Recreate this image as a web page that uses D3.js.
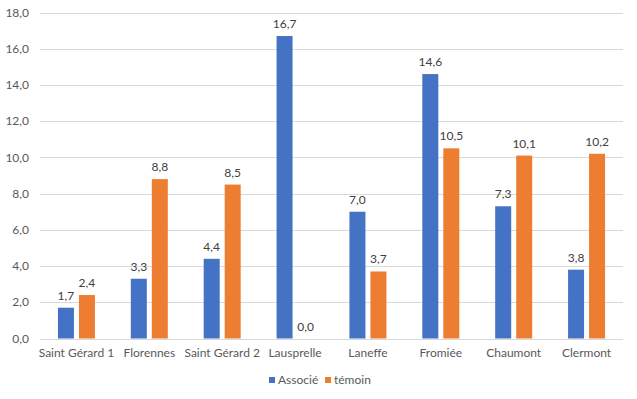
<!DOCTYPE html>
<html><head><meta charset="utf-8">
<script src="https://cdn.jsdelivr.net/npm/d3@7"></script>
<style>
html,body{margin:0;padding:0;background:#fff;}
svg{display:block;font-family:Lato,"Liberation Sans",sans-serif;}
</style></head>
<body><svg id="c" width="637" height="399"></svg>
<script>
const categories = ["Saint Gérard 1","Florennes","Saint Gérard 2","Lausprelle","Laneffe","Fromiée","Chaumont","Clermont"];
const seriesNames = ["Associé","témoin"];
const associe = [1.7,3.3,4.4,16.7,7.0,14.6,7.3,3.8];
const temoin = [2.4,8.8,8.5,0.0,3.7,10.5,10.1,10.2];
const yTicks = [0,2,4,6,8,10,12,14,16,18];
const colors = ["#4472C4","#ED7D31"];

(function(){
const svg = d3.select("#c");
const mLeft = 40, mRight = 623, mTop = 12.5, mBottom = 338.5;
const fmt = v => v.toFixed(1).replace(".", ",");

const x0 = d3.scaleBand().domain(categories).range([mLeft, mRight]).paddingInner(0).paddingOuter(0);
const x1 = d3.scaleBand().domain(seriesNames).range([-18.5, 18.5]).paddingInner(5/21).paddingOuter(0);
const y = d3.scaleLinear().domain([0, 18]).range([mBottom, mTop]);

svg.append("g").selectAll("line").data(yTicks).join("line")
  .attr("x1", mLeft).attr("x2", mRight)
  .attr("y1", d => Math.round(y(d)) + 0.5).attr("y2", d => Math.round(y(d)) + 0.5)
  .attr("stroke", "#d9d9d9").attr("stroke-width", 1);

svg.append("g").selectAll("text").data(yTicks).join("text")
  .attr("x", 29).attr("y", d => y(d)).attr("dy", "0.35em")
  .attr("text-anchor", "end").attr("font-size", 12).attr("fill", "#595959")
  .text(d => fmt(d));

const data = categories.map((c, i) => ({c, vals: [associe[i], temoin[i]]}));

const groups = svg.append("g").selectAll("g").data(data).join("g")
  .attr("transform", d => `translate(${x0(d.c) + x0.bandwidth()/2},0)`);

groups.selectAll("rect").data(d => d.vals.map((v, j) => ({v, s: seriesNames[j], j}))).join("rect")
  .attr("x", d => x1(d.s)).attr("width", x1.bandwidth())
  .attr("y", d => y(d.v)).attr("height", d => y(0) - y(d.v))
  .attr("fill", d => colors[d.j]);

groups.selectAll("text.v").data(d => d.vals.map((v, j) => ({v, s: seriesNames[j], j}))).join("text")
  .attr("class", "v")
  .attr("x", d => x1(d.s) + x1.bandwidth()/2).attr("y", d => y(d.v) - 8)
  .attr("text-anchor", "middle").attr("font-size", 12).attr("fill", "#404040")
  .text(d => fmt(d.v));

svg.append("g").selectAll("text").data(categories).join("text")
  .attr("x", d => x0(d) + x0.bandwidth()/2).attr("y", 357)
  .attr("text-anchor", "middle").attr("font-size", 12).attr("fill", "#595959")
  .text(d => d);

const legend = svg.append("g");
const legX = [269, 325];
seriesNames.forEach((s, i) => {
  legend.append("rect").attr("x", legX[i]).attr("y", 377).attr("width", 6).attr("height", 6).attr("fill", colors[i]);
  legend.append("text").attr("x", legX[i] + 9).attr("y", 380).attr("dy", "0.35em")
    .attr("font-size", 12).attr("fill", "#595959").text(s);
});
})();
</script></body></html>
